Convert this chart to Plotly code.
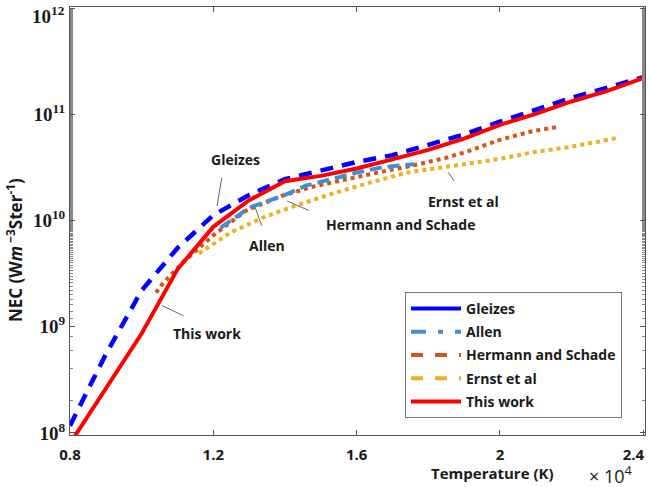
import plotly.graph_objects as go

# Temperature in units of 10^4 K, NEC in W m^-3 Ster^-1
gleizes_T = [0.8, 0.9, 1.0, 1.1, 1.2, 1.3, 1.4, 1.5, 1.6, 1.7, 1.8, 1.9, 2.0, 2.1, 2.2, 2.3, 2.4]
gleizes_NEC = [1.17e8, 5.50e8, 2.19e9, 5.50e9, 1.12e10, 1.74e10, 2.45e10, 2.92e10, 3.55e10,
               4.12e10, 5.13e10, 6.46e10, 8.51e10, 1.10e11, 1.43e11, 1.78e11, 2.24e11]

allen_T = [1.22, 1.30, 1.40, 1.46, 1.53, 1.60, 1.67, 1.76]
allen_NEC = [8.51e9, 1.32e10, 1.74e10, 2.14e10, 2.45e10, 2.82e10, 3.16e10, 3.39e10]

hermann_T = [1.04, 1.06, 1.12, 1.20, 1.29, 1.39, 1.48, 1.57, 1.67, 1.76, 1.85, 1.91, 2.00, 2.09, 2.16]
hermann_NEC = [2.09e9, 2.57e9, 4.17e9, 7.24e9, 1.23e10, 1.70e10, 2.09e10, 2.45e10, 2.88e10,
               3.31e10, 3.89e10, 4.47e10, 5.75e10, 6.92e10, 7.59e10]

ernst_T = [1.16, 1.25, 1.34, 1.43, 1.53, 1.62, 1.74, 1.86, 2.00, 2.09, 2.19, 2.28, 2.33]
ernst_NEC = [4.90e9, 7.76e9, 1.07e10, 1.38e10, 1.78e10, 2.19e10, 2.82e10, 3.24e10, 3.80e10,
             4.37e10, 4.90e10, 5.56e10, 6.03e10]

thiswork_T = [0.8, 0.9, 1.0, 1.1, 1.2, 1.3, 1.4, 1.5, 1.6, 1.7, 1.8, 1.9, 2.0, 2.1, 2.2, 2.3, 2.4]
thiswork_NEC = [7.94e7, 2.63e8, 8.61e8, 3.47e9, 8.71e9, 1.55e10, 2.34e10, 2.63e10, 3.09e10,
                3.76e10, 4.62e10, 5.89e10, 7.94e10, 1.01e11, 1.32e11, 1.66e11, 2.19e11]

x_tickvals = [0.8, 1.2, 1.6, 2.0, 2.4]
x_ticktext = ["0.8", "1.2", "1.6", "2", "2.4\u00a0\u00a0\u00a0\u00a0\u00a0"]

y_tickvals = [1e8, 1e9, 1e10, 1e11, 1e12]
y_ticktext = ["10<sup>8</sup>", "10<sup>9</sup>", "10<sup>10</sup>", "10<sup>11</sup>", ""]
y_top_label = "10<sup>12</sup>"

C_GLEIZES = "#0000ff"
C_ALLEN = "#3f8fd2"
C_HERMANN = "#d95319"
C_ERNST = "#edb120"
C_THIS = "#ff0000"

SANS = "Open Sans, Liberation Sans, sans-serif"
SERIF = "Liberation Serif, serif"
TXT = "#1a1a1a"

fig = go.Figure()

# plotted data (legend hidden; legend uses its own sample styles)
fig.add_trace(go.Scatter(x=ernst_T, y=ernst_NEC, mode="lines", showlegend=False,
                         line=dict(color=C_ERNST, width=4, dash="dot")))
fig.add_trace(go.Scatter(x=hermann_T, y=hermann_NEC, mode="lines", showlegend=False,
                         line=dict(color=C_HERMANN, width=4, dash="dot")))
fig.add_trace(go.Scatter(x=allen_T, y=allen_NEC, mode="lines", showlegend=False,
                         line=dict(color=C_ALLEN, width=4, dash="12px,6px")))
fig.add_trace(go.Scatter(x=gleizes_T, y=gleizes_NEC, mode="lines", showlegend=False,
                         line=dict(color=C_GLEIZES, width=4.5, dash="13px,9px")))
fig.add_trace(go.Scatter(x=thiswork_T, y=thiswork_NEC, mode="lines", showlegend=False,
                         line=dict(color=C_THIS, width=4)))

# legend entries
legend_items = [
    ("Gleizes", C_GLEIZES, "solid"),
    ("Allen", C_ALLEN, "15px,12px,5px,12px"),
    ("Hermann and Schade", C_HERMANN, "dash"),
    ("Ernst et al", C_ERNST, "dash"),
    ("This work", C_THIS, "solid"),
]
for i, (name, col, dash) in enumerate(legend_items):
    fig.add_trace(go.Scatter(x=[None], y=[None], mode="lines", name=name, legendgroup=f"g{i}",
                             line=dict(color=col, width=4, dash=dash)))

ann_font = dict(family=SANS, size=14, color=TXT, weight="bold")
labels = [
    ("Gleizes", 1.261, 10.576),
    ("Allen", 1.350, 9.761),
    ("Hermann and Schade", 1.7215, 9.958),
    ("Ernst et al", 1.897, 10.183),
    ("This work", 1.1826, 8.937),
]
arrows = [
    (1.2105, 10.136, 5, -30),
    (1.3166, 10.127, 7, 20),
    (1.406, 10.183, 23, 10),
    (1.8555, 10.454, 7, 10),
    (1.0569, 9.199, 23, 11),
]

L, R, T, B = 70, 5, 7, 52
W, H = 650, 487
pw, ph = W - L - R, H - T - B


def px(xp):
    return (xp - L) / pw


def py(yp):
    return (H - B - yp) / ph


annotations = []
for t, x, y in labels:
    annotations.append(dict(text=t, x=x, y=y, xref="x", yref="y", showarrow=False, font=ann_font))
for x, y, ax, ay in arrows:
    annotations.append(dict(text="", x=x, y=y, xref="x", yref="y", showarrow=True, arrowhead=0,
                            arrowwidth=1, arrowcolor="#666666", ax=ax, ay=ay, standoff=0, startstandoff=0))
annotations.append(dict(text="Temperature (K)", x=px(492), y=py(473), xref="paper", yref="paper",
                        xanchor="center", yanchor="middle", showarrow=False,
                        font=dict(family=SANS, size=15, color=TXT, weight="bold")))
annotations.append(dict(text="×\u00a010<sup>4</sup>", x=px(610), y=py(475), xref="paper", yref="paper",
                        xanchor="center", yanchor="middle", showarrow=False,
                        font=dict(family=SANS, size=18, color=TXT)))
annotations.append(dict(text="NEC (W<i>m</i><sup> −3</sup>Ster<sup>-1</sup>)", x=px(14), y=py(250),
                        xref="paper", yref="paper", xanchor="center", yanchor="middle",
                        textangle=-90, showarrow=False,
                        font=dict(family=SANS, size=17, color=TXT, weight="bold")))
annotations.append(dict(text=y_top_label, x=px(67), y=py(15), xref="paper", yref="paper",
                        xanchor="right", yanchor="middle", showarrow=False,
                        font=dict(family=SERIF, size=19, color=TXT, weight="bold")))

fig.update_layout(
    width=W, height=H,
    margin=dict(l=L, r=R, t=T, b=B, autoexpand=False),
    paper_bgcolor="white", plot_bgcolor="white",
    showlegend=True,
    legend=dict(x=px(405), y=py(292), xanchor="left", yanchor="top",
                bgcolor="white", bordercolor="#777777", borderwidth=1,
                font=dict(family=SANS, size=14, color=TXT, weight="bold"),
                itemwidth=50, traceorder="grouped", tracegroupgap=2),
    annotations=annotations,
)
fig.update_xaxes(
    range=[0.8, 2.405], tickvals=x_tickvals, ticktext=x_ticktext,
    ticks="inside", ticklen=5, tickcolor="#555555",
    showline=True, linecolor="#555555", linewidth=1, mirror="ticks",
    showgrid=False, zeroline=False, ticklabelstandoff=6, ticklabeloverflow="allow",
    automargin=False,
    tickfont=dict(family=SANS, size=15, color=TXT, weight="bold"),
)
fig.update_yaxes(
    type="log", range=[7.98, 12.01], tickvals=y_tickvals, ticktext=y_ticktext,
    ticks="inside", ticklen=5, tickcolor="#555555",
    minor=dict(ticks="inside", ticklen=3, tickcolor="#888888", showgrid=False),
    showline=True, linecolor="#555555", linewidth=1, mirror="allticks",
    showgrid=False, zeroline=False, ticklabeloverflow="allow", automargin=False,
    tickfont=dict(family=SERIF, size=19, color=TXT, weight="bold"),
)

fig.write_html("out.html")
